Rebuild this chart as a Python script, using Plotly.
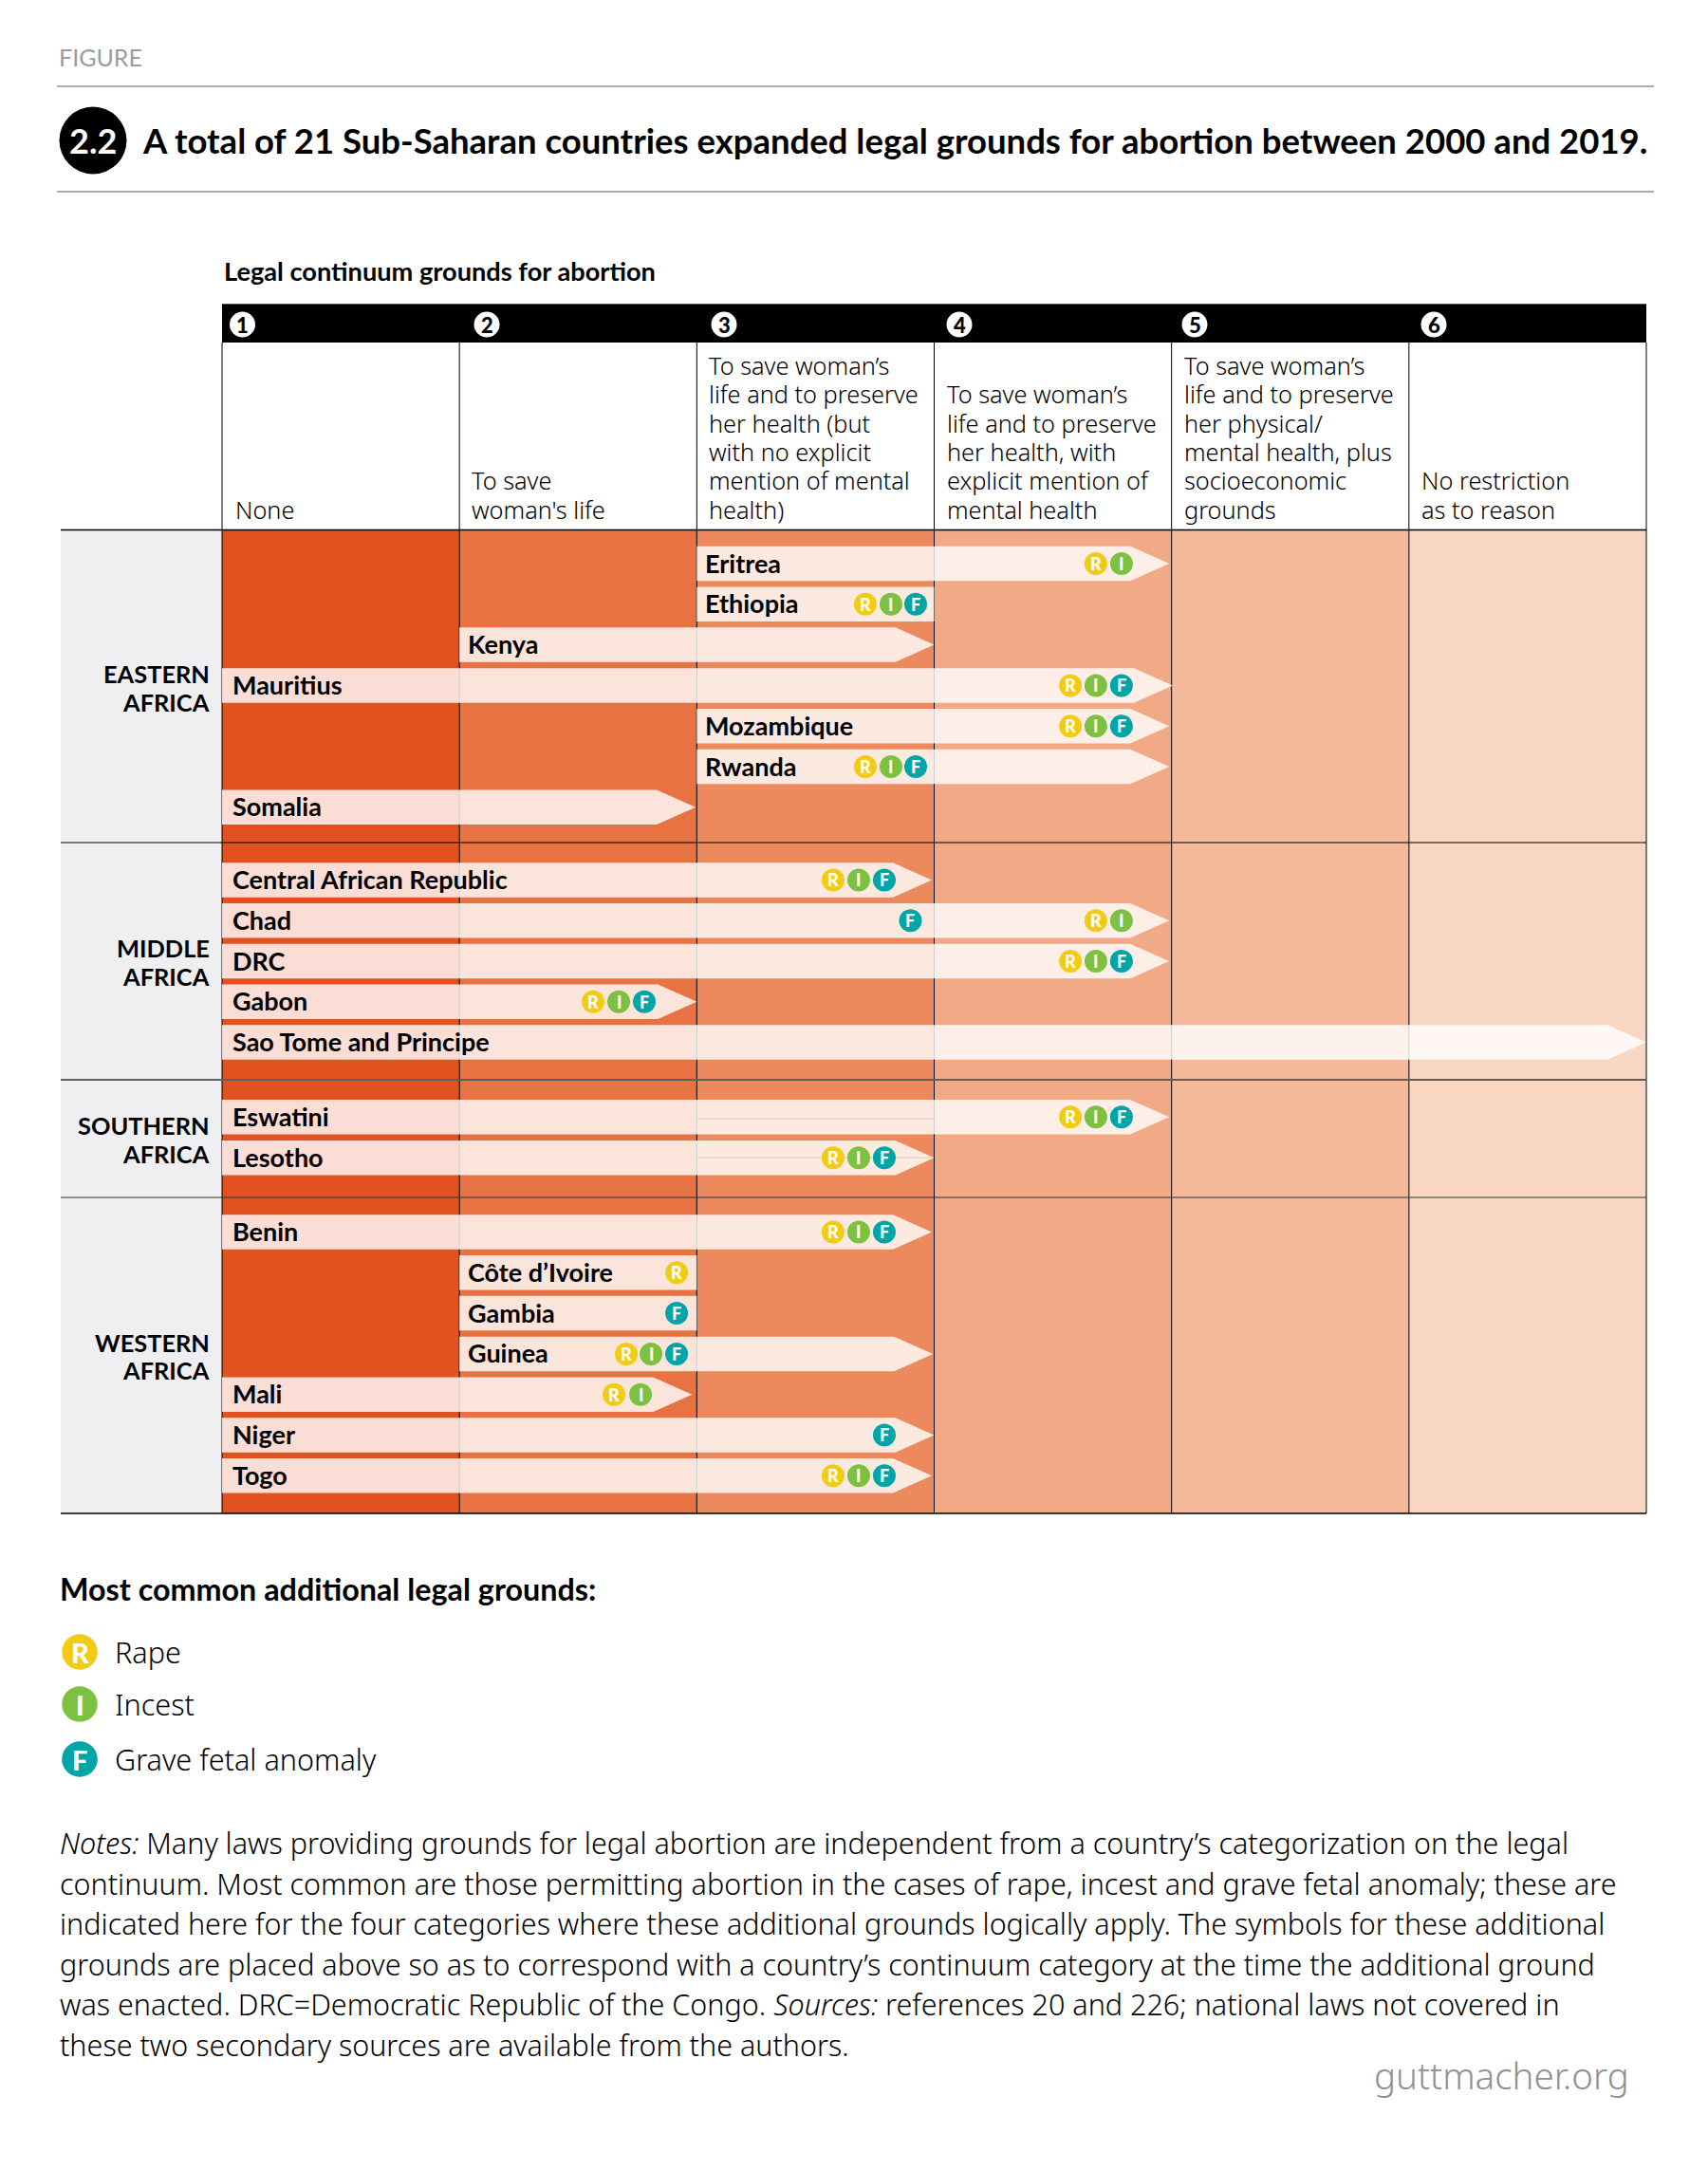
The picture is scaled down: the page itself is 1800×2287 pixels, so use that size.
import plotly.graph_objects as go

# ---------- data ----------
countries = ["Eritrea", "Ethiopia", "Kenya", "Mauritius", "Mozambique", "Rwanda", "Somalia",
             "Central African Republic", "Chad", "DRC", "Gabon", "Sao Tome and Principe",
             "Eswatini", "Lesotho",
             "Benin", "Côte d’Ivoire", "Gambia", "Guinea", "Mali", "Niger", "Togo"]
country_group = [0] * 7 + [1] * 5 + [2] * 2 + [3] * 7
start_category = [2, 2, 1, 0, 2, 2, 0, 0, 0, 0, 0, 0, 0, 0, 0, 1, 1, 1, 0, 0, 0]
end_category = [3.99, 3.0, 3.0, 4.005, 3.99, 3.99, 1.995, 2.99, 3.99, 3.99, 2.0, 6.0, 3.99, 3.0,
                2.99, 2.0, 2.0, 2.995, 1.98, 3.0, 2.99]
has_arrow = [1, 0, 1, 1, 1, 1, 1, 1, 1, 1, 1, 1, 1, 1, 1, 0, 0, 1, 1, 1, 1]
rape_pos = [3.681, 2.710, None, 3.574, 3.574, 2.710, None, 2.574, 3.681, 3.574, 1.563, None,
            3.574, 2.574, 2.574, 1.915, None, 1.703, 1.651, None, 2.574]
incest_pos = [3.789, 2.818, None, 3.681, 3.681, 2.818, None, 2.682, 3.789, 3.681, 1.671, None,
              3.681, 2.682, 2.682, None, None, 1.807, 1.763, None, 2.682]
fetal_pos = [None, 2.922, None, 3.789, 3.789, 2.922, None, 2.790, 2.900, 3.789, 1.779, None,
             3.789, 2.790, 2.790, None, 1.915, 1.915, None, 2.790, 2.790]
group_labels = [["EASTERN", "AFRICA"], ["MIDDLE", "AFRICA"], ["SOUTHERN", "AFRICA"], ["WESTERN", "AFRICA"]]
category_numbers = ["1", "2", "3", "4", "5", "6"]
category_text = [["None"],
                 ["To save", "woman's life"],
                 ["To save woman’s", "life and to preserve", "her health (but", "with no explicit", "mention of mental", "health)"],
                 ["To save woman’s", "life and to preserve", "her health, with", "explicit mention of", "mental health"],
                 ["To save woman’s", "life and to preserve", "her physical/", "mental health, plus", "socioeconomic", "grounds"],
                 ["No restriction", "as to reason"]]
ground_codes = ["R", "I", "F"]
ground_names = ["Rape", "Incest", "Grave fetal anomaly"]
title_text = "A total of 21 Sub-Saharan countries expanded legal grounds for abortion between 2000 and 2019."
notes_lines = ["<i>Notes:</i> Many laws providing grounds for legal abortion are independent from a country’s categorization on the legal",
               "continuum. Most common are those permitting abortion in the cases of rape, incest and grave fetal anomaly; these are",
               "indicated here for the four categories where these additional grounds logically apply. The symbols for these additional",
               "grounds are placed above so as to correspond with a country’s continuum category at the time the additional ground",
               "was enacted. DRC=Democratic Republic of the Congo. <i>Sources:</i> references 20 and 226; national laws not covered in",
               "these two secondary sources are available from the authors."]

# ---------- layout / style ----------
W, H = 1800, 2287
X0, CW = 234.0, 250.17          # pixel of category 0, pixels per category
Y0, RP = 594.0, 42.8            # pixel of row 0, pixels per row
BAR_H = 36.5 / RP
ARROW = 41 / CW
FONT = "Lato"
LIGHT = "Noto Sans"
col_colors = ["#E25220", "#E77342", "#EC8A5E", "#F2A985", "#F5B99C", "#F8D6C2"]
ground_colors = {"R": "#F2CB15", "I": "#7CC142", "F": "#00A5A8"}
extra_gap = [0.79, 0.84, 0.83]


def cx(px):
    return (px - X0) / CW


def ry(py):
    return (py - Y0) / RP


row_pos, pos, prev = [], 0.0, 0
for g in country_group:
    if g != prev:
        pos += extra_gap[prev]
        prev = g
    row_pos.append(pos)
    pos += 1

fig = go.Figure()
ann = []


def axis_text(x, y, s, size, color, weight=900, yshift=0):
    ann.append(dict(x=x, y=y, xref="x", yref="y", text=s, showarrow=False, xanchor="center", yanchor="middle",
                    borderpad=0, yshift=yshift, font=dict(family=FONT, size=size, weight=weight, color=color)))


def text(x, y, s, size, weight=400, color="#000000", anchor="left", family=FONT):
    ann.append(dict(x=x / W, y=1 - y / H, xref="paper", yref="paper", text=s, showarrow=False,
                    xanchor=anchor, yanchor="middle", borderpad=0,
                    font=dict(family=family, size=size, weight=weight, color=color)))


# column bands
top, bottom = ry(559), ry(1595)
fig.add_trace(go.Bar(x=[i + 0.5 for i in range(6)], y=[bottom - top] * 6, base=[top] * 6, width=[1] * 6,
                     marker=dict(color=col_colors, line=dict(width=0)), showlegend=False, hoverinfo="skip"))
# left band
fig.add_trace(go.Bar(x=[cx(149)], y=[bottom - top], base=[top], width=[170 / CW],
                     marker=dict(color="#EFEFF1", line=dict(width=0)), showlegend=False, hoverinfo="skip"))
# black header band
fig.add_trace(go.Bar(x=[3], y=[ry(361) - ry(321)], base=[ry(321)], width=[6],
                     marker=dict(color="#000000", line=dict(width=0)), showlegend=False, hoverinfo="skip"))


def line(xs, ys, color="#000000", width=1.0):
    fig.add_trace(go.Scatter(x=xs, y=ys, mode="lines", line=dict(color=color, width=width),
                             showlegend=False, hoverinfo="skip"))


# grid
vx, vy = [], []
for i in range(7):
    vx += [i, i, None]
    vy += [ry(361), bottom, None]
line(vx, vy, "#000000", 1.0)
line([cx(64), 6], [ry(558.5)] * 2, "#000000", 1.4)
line([cx(64), 6], [ry(888)] * 2, "#000000", 1.2)
line([cx(64), 6], [ry(1138)] * 2, "#5E5E5E", 2)
line([cx(64), 6], [ry(1262)] * 2, "#333333", 1.2)
line([cx(64), 6], [ry(1595)] * 2, "#000000", 1.4)
line([0, 6], [ry(320.5)] * 2, "#555555", 1.2)
# page rules
line([cx(60), cx(1743)], [ry(91)] * 2, "#8E9093", 1.6)
line([cx(60), cx(1743)], [ry(202)] * 2, "#8E9093", 1.6)

# country bars
for i, name in enumerate(countries):
    s, e, c = start_category[i], end_category[i], row_pos[i]
    t, b = c - BAR_H / 2, c + BAR_H / 2
    if has_arrow[i]:
        xs = [s, e - ARROW, e, e - ARROW, s, s]
        ys = [t, t, c, b, b, t]
    else:
        xs = [s, e, e, s, s]
        ys = [t, t, b, b, t]
    fig.add_trace(go.Scatter(x=xs, y=ys, mode="lines", fill="toself", line=dict(width=0),
                             fillcolor="rgba(255,255,255,0.81)", showlegend=False, hoverinfo="skip"))

# thin traces inside the Eswatini and Lesotho bars
es, le = countries.index("Eswatini"), countries.index("Lesotho")
line([2, 3], [row_pos[es] + 0.04] * 2, "#E0CFC4", 1)
line([2, 2.99], [row_pos[le]] * 2, "#E0CFC4", 1.4)

# additional-ground symbols
for code, positions in zip(ground_codes, [rape_pos, incest_pos, fetal_pos]):
    xs = [p for p in positions if p is not None]
    ys = [row_pos[i] for i, p in enumerate(positions) if p is not None]
    fig.add_trace(go.Scatter(x=xs, y=ys, mode="markers",
                             marker=dict(size=24, color=ground_colors[code], line=dict(width=0)),
                             showlegend=False, hoverinfo="skip", cliponaxis=False))
    for xv, yv in zip(xs, ys):
        axis_text(xv, yv, code, 18, "#FFFFFF")

# legend symbols
legend_y = [1741, 1796, 1854]
for code, ly in zip(ground_codes, legend_y):
    fig.add_trace(go.Scatter(x=[cx(84)], y=[ry(ly)], mode="markers",
                             marker=dict(size=37.5, color=ground_colors[code], line=dict(width=0)),
                             showlegend=False, hoverinfo="skip"))
    axis_text(cx(84), ry(ly), code, 29, "#FFFFFF")

# header number badges
badge_px = [255.5, 513, 763, 1011, 1259, 1511]
fig.add_trace(go.Scatter(x=[cx(p) for p in badge_px], y=[ry(342)] * 6, mode="markers",
                         marker=dict(size=27, color="#FFFFFF", line=dict(width=0)),
                         showlegend=False, hoverinfo="skip"))
for p, n in zip(badge_px, category_numbers):
    axis_text(cx(p), ry(342), n, 22, "#000000")
# figure number badge
fig.add_trace(go.Scatter(x=[cx(98)], y=[ry(148)], mode="markers", marker=dict(size=71, color="#000000", line=dict(width=0)),
                         showlegend=False, hoverinfo="skip"))

text(98, 148.5, "2.2", 36, 700, "#FFFFFF", anchor="center")
text(61, 60, "FIGURE", 25, 400, "#9A9C9F")
text(149, 148, title_text, 36.5, 700)
text(234.5, 285, "Legal continuum grounds for abortion", 27.2, 700)

cat_x = [246.5, 496, 746, 997, 1247, 1497]
for lines, tx in zip(category_text, cat_x):
    n = len(lines)
    for k, ln in enumerate(lines):
        text(tx, 536.5 - 30.3 * (n - 1 - k), ln, 25.3, 300, family=LIGHT)

label_y = [(710, 739.6), (999, 1028.5), (1186, 1216), (1415, 1444)]
for lines, ys in zip(group_labels, label_y):
    for ln, y in zip(lines, ys):
        text(222, y, ln, 25.4, 700, anchor="right")

label_pad = [10, 7.5, 8]  # left padding of the name, by starting column
for i, name in enumerate(countries):
    ann.append(dict(x=start_category[i], y=row_pos[i], xref="x", yref="y", text=name, showarrow=False,
                    xanchor="left", yanchor="middle", xshift=label_pad[start_category[i]], yshift=1, borderpad=0,
                    font=dict(family=FONT, size=27, weight=700, color="#000000")))

text(62, 1674.5, "Most common additional legal grounds:", 32.3, 700)
for name, ly in zip(ground_names, legend_y):
    text(120, ly - 0.5, name, 30.6, 300, family=LIGHT)
for k, ln in enumerate(notes_lines):
    text(62, 1942 + 42.6 * k, ln, 30.5, 300, family=LIGHT)
text(1718, 2187, "guttmacher.org", 38.5, 300, "#8E9093", anchor="right", family=LIGHT)

fig.update_layout(
    width=W, height=H, margin=dict(l=0, r=0, t=0, b=0), paper_bgcolor="#FFFFFF", plot_bgcolor="#FFFFFF",
    showlegend=False, barmode="overlay", annotations=ann, autosize=False,
    xaxis=dict(range=[cx(0), cx(W)], visible=False, fixedrange=True),
    yaxis=dict(range=[ry(H), ry(0)], visible=False, fixedrange=True),
)

fig.write_html("out.html", config={"displayModeBar": False},
               post_script="document.body.style.margin='0';document.body.style.overflow='hidden';")
